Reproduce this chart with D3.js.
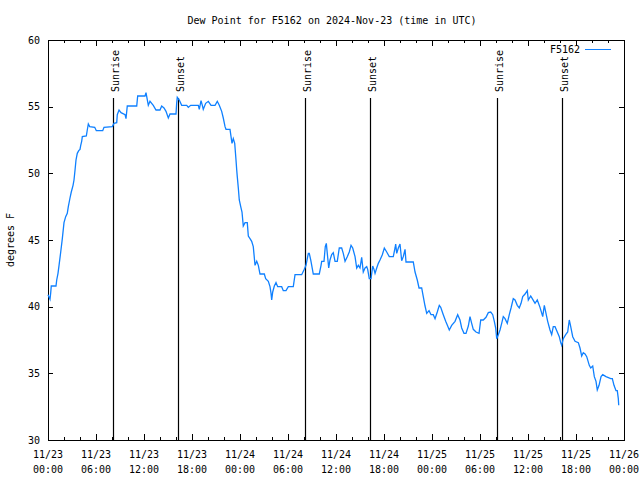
<!DOCTYPE html>
<html>
<head>
<meta charset="utf-8">
<script src="https://cdn.jsdelivr.net/npm/d3@7"></script>
<style>
  html, body { margin: 0; padding: 0; background: #fff; }
  svg { display: block; }
  text { font-family: "DejaVu Sans Mono", "Liberation Mono", monospace; fill: #000; }
</style>
</head>
<body>
<svg id="chart" width="640" height="480"></svg>
<script>
// ---------- data ----------
const chartTitle = "Dew Point for F5162 on 2024-Nov-23 (time in UTC)";
const seriesName = "F5162";
const yLabel = "degrees F";
const startUTC = Date.UTC(2024, 10, 23, 0, 0);
const endUTC = Date.UTC(2024, 10, 26, 0, 0);

// hours since 2024-11-23 00:00 UTC
const hours = [
  0, 0.25, 0.34, 0.41, 1.0, 1.09, 1.25, 1.38, 1.59, 1.79, 2.0, 2.21, 2.41, 2.54, 2.75, 2.91,
  3.13, 3.25, 3.38, 3.5, 3.66, 3.84, 4.0, 4.09, 4.21, 4.29, 4.79, 4.91, 5.04, 5.21, 5.84, 6.04,
  6.84, 7.0, 8.04, 8.25, 8.59, 8.66, 8.88, 9.13, 9.63, 9.75, 9.91, 11.09, 11.21, 12.13, 12.25, 12.34,
  12.54, 12.75, 13.16, 13.5, 14.0, 14.21, 14.5, 14.75, 15.04, 15.25, 16.0, 16.09, 16.16, 16.41, 16.71, 17.34,
  17.54, 17.84, 18.79, 18.91, 19.13, 19.29, 19.41, 19.71, 20.04, 20.38, 20.88, 21.16, 21.41, 21.71, 21.91, 22.13,
  22.25, 22.75, 22.88, 23.0, 23.16, 23.34, 23.5, 23.59, 23.66, 23.79, 23.91, 24.09, 24.25, 24.41, 24.63, 24.91,
  25.04, 25.25, 25.46, 25.66, 25.88, 26.09, 26.29, 26.5, 27.04, 27.21, 27.54, 27.75, 27.88, 27.96, 28.09, 28.29,
  28.5, 28.71, 29.21, 29.41, 29.75, 30.04, 30.66, 30.88, 31.71, 32.04, 32.25, 32.54, 32.66, 32.84, 33.16, 33.91,
  34.13, 34.21, 34.5, 34.66, 34.79, 34.91, 35.09, 35.25, 35.46, 35.66, 35.88, 36.16, 36.41, 36.71, 36.91, 37.13,
  37.41, 37.66, 37.88, 38.09, 38.38, 38.59, 38.79, 39.0, 39.21, 39.41, 39.63, 39.84, 39.96, 40.16, 40.38, 40.59,
  40.75, 40.88, 41.09, 41.29, 41.5, 41.79, 42.04, 42.34, 42.66, 43.16, 43.38, 43.46, 43.59, 43.79, 44.0, 44.21,
  44.41, 44.63, 44.75, 45.66, 45.88, 46.16, 46.38, 46.71, 46.91, 47.13, 47.34, 47.63, 47.88, 48.16, 48.38, 48.66,
  48.91, 49.09, 49.41, 49.71, 49.96, 50.16, 50.46, 50.88, 51.21, 51.5, 51.71, 52.0, 52.25, 52.54, 52.75, 52.96,
  53.16, 53.5, 53.88, 54.09, 54.41, 54.75, 55.04, 55.34, 55.59, 55.79, 55.96, 56.09, 56.29, 56.5, 56.71, 56.91,
  57.13, 57.41, 57.66, 57.88, 58.16, 58.38, 58.66, 58.91, 59.13, 59.34, 59.63, 59.91, 60.04, 60.34, 60.59, 60.88,
  61.16, 61.5, 61.84, 62.04, 62.25, 62.46, 62.75, 62.96, 63.16, 63.38, 63.66, 63.91, 64.09, 64.21, 64.41, 64.71,
  64.96, 65.16, 65.34, 65.59, 65.88, 66.29, 66.5, 66.71, 66.91, 67.13, 67.34, 67.66, 67.84, 68.09, 68.29, 68.5,
  68.66, 68.88, 69.13, 69.34, 69.75, 70.34, 70.54, 70.75, 71.0, 71.16, 71.29, 71.34
];
const dewPointF = [
  40.9, 40.55, 41.05, 41.55, 41.55, 42.0, 42.5, 43.1, 44.1, 45.1, 46.3, 46.75, 47.0, 47.5, 48.15, 48.6,
  49.1, 49.5, 50.25, 51.0, 51.5, 51.7, 51.8, 52.1, 52.4, 52.75, 52.8, 53.25, 53.7, 53.5, 53.45, 53.2,
  53.2, 53.45, 53.5, 53.75, 53.8, 54.4, 54.75, 54.55, 54.4, 54.1, 55.05, 55.05, 55.8, 55.8, 56.05, 55.75,
  55.1, 55.4, 55.1, 54.75, 54.75, 55.05, 54.9, 54.65, 54.15, 54.45, 54.45, 55.3, 55.7, 55.5, 55.1, 55.1,
  54.95, 55.1, 55.1, 54.8, 55.45, 55.1, 54.8, 55.25, 55.4, 55.1, 55.1, 55.4, 55.1, 54.65, 54.15, 53.5,
  53.3, 53.3, 52.75, 52.25, 52.6, 52.25, 51.0, 50.25, 49.75, 48.9, 48.0, 47.5, 47.1, 46.05, 46.3, 46.3,
  45.3, 45.1, 44.9, 44.5, 43.1, 43.4, 43.1, 42.45, 42.45, 42.1, 41.9, 41.5, 41.0, 40.5, 41.1, 41.55,
  41.8, 41.5, 41.5, 41.2, 41.2, 41.5, 41.5, 42.4, 42.4, 42.8, 43.1, 44.0, 44.0, 43.5, 42.45, 42.45,
  43.1, 43.4, 43.4, 44.5, 44.75, 44.0, 42.9, 43.5, 43.9, 44.05, 43.4, 43.4, 44.4, 44.4, 44.0, 43.4,
  43.75, 44.1, 44.6, 44.4, 43.75, 42.9, 43.1, 42.9, 43.7, 42.6, 42.9, 43.0, 42.8, 42.1, 42.1, 43.05,
  42.8, 42.5, 42.9, 43.25, 43.5, 43.9, 44.4, 44.1, 43.75, 43.75, 44.4, 44.7, 44.0, 44.4, 44.7, 43.45,
  43.75, 44.3, 43.35, 43.35, 42.6, 42.0, 41.4, 41.4, 40.75, 40.05, 39.5, 39.7, 39.4, 39.4, 39.1, 39.6,
  40.1, 39.95, 39.4, 38.9, 38.55, 38.25, 38.6, 38.9, 39.4, 39.0, 38.4, 38.0, 38.0, 38.55, 39.25, 38.75,
  38.3, 38.1, 38.0, 39.0, 39.0, 39.2, 39.55, 39.6, 39.4, 38.9, 38.4, 37.6, 37.9, 38.25, 38.75, 39.25,
  39.1, 38.75, 39.4, 39.9, 40.6, 40.5, 40.1, 39.9, 40.25, 40.75, 40.95, 41.2, 40.5, 40.8, 40.55, 40.25,
  40.5, 39.95, 39.25, 40.1, 39.5, 38.9, 38.25, 37.9, 38.5, 38.5, 38.1, 37.75, 37.3, 37.1, 37.6, 37.9,
  38.1, 39.0, 38.5, 37.75, 37.4, 37.3, 36.9, 36.3, 36.55, 36.45, 36.25, 35.6, 35.4, 35.55, 34.75, 34.4,
  33.75, 34.1, 34.75, 34.9, 34.75, 34.6, 34.6, 34.1, 33.7, 33.7, 33.1, 32.6
];

// sun events (hours since start)
const sunEventLabels = ["Sunrise", "Sunset", "Sunrise", "Sunset", "Sunrise", "Sunset"];
const sunEventHours = [8.08, 16.2, 32.1, 40.3, 56.12, 64.22];

const yTicks = [30, 35, 40, 45, 50, 55, 60];
const majorTickHours = [0, 6, 12, 18, 24, 30, 36, 42, 48, 54, 60, 66, 72];
const minorTickHours = d3.range(0, 73, 2);
const tickLabelDates = ["11/23", "11/23", "11/23", "11/23", "11/24", "11/24", "11/24", "11/24", "11/25", "11/25", "11/25", "11/25", "11/26"];
const tickLabelTimes = ["00:00", "06:00", "12:00", "18:00", "00:00", "06:00", "12:00", "18:00", "00:00", "06:00", "12:00", "18:00", "00:00"];

// ---------- layout ----------
const W = 640, H = 480;
const margin = { left: 48, right: 16, top: 40, bottom: 40 };
const plotW = W - margin.left - margin.right;   // 576
const plotH = H - margin.top - margin.bottom;   // 400
const lineColor = "#0f80ff";
const fontSize = 10;

const toDate = h => new Date(startUTC + h * 3600 * 1000);

const svg = d3.select("#chart");
svg.append("rect").attr("width", W).attr("height", H).attr("fill", "#fff");

const x = d3.scaleUtc().domain([new Date(startUTC), new Date(endUTC)]).range([0, plotW]);
const y = d3.scaleLinear().domain([30, 60]).range([plotH, 0]);

const g = svg.append("g").attr("transform", `translate(${margin.left},${margin.top})`);

// title
svg.append("text")
  .attr("x", 332).attr("y", 24)
  .attr("text-anchor", "middle")
  .style("font-size", fontSize + "px")
  .text(chartTitle);

// y label
svg.append("text")
  .attr("transform", `translate(14,240) rotate(-90)`)
  .attr("text-anchor", "middle")
  .style("font-size", fontSize + "px")
  .text(yLabel);

function styleAxis(sel) {
  sel.select(".domain").remove();
  sel.selectAll(".tick line").attr("stroke", "#000").attr("stroke-width", 1).attr("shape-rendering", "crispEdges");
}

// minor x ticks (bottom & top)
g.append("g").attr("transform", `translate(0,${plotH})`)
  .call(d3.axisBottom(x).tickValues(minorTickHours.map(toDate)).tickSize(-3).tickFormat(""))
  .call(styleAxis);
g.append("g")
  .call(d3.axisTop(x).tickValues(minorTickHours.map(toDate)).tickSize(-3).tickFormat(""))
  .call(styleAxis);
// major x ticks
g.append("g").attr("transform", `translate(0,${plotH})`)
  .call(d3.axisBottom(x).tickValues(majorTickHours.map(toDate)).tickSize(-6).tickFormat(""))
  .call(styleAxis);
g.append("g")
  .call(d3.axisTop(x).tickValues(majorTickHours.map(toDate)).tickSize(-6).tickFormat(""))
  .call(styleAxis);

// x tick labels (two lines)
const xl = g.append("g").attr("class", "xlabels");
majorTickHours.forEach((h, i) => {
  const t = xl.append("text")
    .attr("x", x(toDate(h)))
    .attr("text-anchor", "middle")
    .style("font-size", fontSize + "px");
  t.append("tspan").attr("x", x(toDate(h))).attr("y", plotH + 18).text(tickLabelDates[i]);
  t.append("tspan").attr("x", x(toDate(h))).attr("y", plotH + 33).text(tickLabelTimes[i]);
});

// y axes
const yl = g.append("g")
  .call(d3.axisLeft(y).tickValues(yTicks).tickSize(-5).tickPadding(8).tickFormat(d3.format("d")))
  .call(styleAxis);
yl.selectAll(".tick text")
  .style("font-size", fontSize + "px")
  .style("font-family", '"DejaVu Sans Mono", monospace')
  .attr("fill", "#000");
g.append("g").attr("transform", `translate(${plotW},0)`)
  .call(d3.axisRight(y).tickValues(yTicks).tickSize(-5).tickFormat(""))
  .call(styleAxis);

// border
g.append("rect")
  .attr("x", 0.5).attr("y", 0.5)
  .attr("width", plotW).attr("height", plotH)
  .attr("fill", "none").attr("stroke", "#000").attr("stroke-width", 1)
  .attr("shape-rendering", "crispEdges");

// sun events
sunEventHours.forEach((h, i) => {
  const px = Math.round(x(toDate(h))) + 0.5;
  g.append("line")
    .attr("x1", px).attr("x2", px)
    .attr("y1", 58).attr("y2", plotH)
    .attr("stroke", "#000").attr("stroke-width", 1.2);
  g.append("text")
    .attr("transform", `translate(${px + 5},52) rotate(-90)`)
    .attr("text-anchor", "start")
    .style("font-size", fontSize + "px")
    .text(sunEventLabels[i]);
});

// series line
const pts = hours.map((h, i) => ({ t: toDate(h), v: dewPointF[i] }));
g.append("path")
  .datum(pts)
  .attr("fill", "none")
  .attr("stroke", lineColor)
  .attr("stroke-width", 1.3)
  .attr("stroke-linejoin", "miter")
  .attr("d", d3.line().x(d => x(d.t)).y(d => y(d.v)));

// legend
svg.append("text")
  .attr("x", 580).attr("y", 53)
  .attr("text-anchor", "end")
  .style("font-size", fontSize + "px")
  .text(seriesName);
svg.append("line")
  .attr("x1", 585).attr("x2", 611)
  .attr("y1", 49.5).attr("y2", 49.5)
  .attr("stroke", lineColor).attr("stroke-width", 1);
</script>
</body>
</html>
